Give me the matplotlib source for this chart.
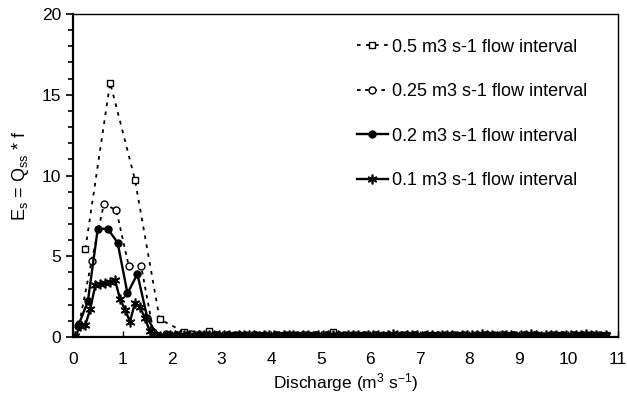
import numpy as np
import matplotlib
matplotlib.use("Agg")
import matplotlib.pyplot as plt

plt.rcParams["font.family"] = ["Liberation Sans", "DejaVu Sans"]
plt.rcParams["mathtext.fontset"] = "custom"
plt.rcParams["mathtext.rm"] = "Liberation Sans"
plt.rcParams["mathtext.it"] = "Liberation Sans"

# =========================
# DATA
# =========================
# flow interval widths; points sit at the interval midpoints
w05, w025, w02, w01 = 0.5, 0.25, 0.2, 0.1

es_05 = [5.45, 15.75, 9.75, 1.1, 0.3, 0.35,
         0.15, 0.12, 0.12, 0.1, 0.3, 0.12, 0.1, 0.12, 0.1, 0.12,
         0.1, 0.1, 0.12, 0.1, 0.1, 0.12]

es_025 = [0.8, 4.7, 8.25, 7.85, 4.4, 4.4, 0.3,
          0.2, 0.15, 0.2, 0.15, 0.12, 0.15, 0.12, 0.1, 0.12, 0.1,
          0.12, 0.1, 0.12, 0.1, 0.1, 0.12, 0.1, 0.1, 0.12, 0.1,
          0.1, 0.12, 0.1, 0.1, 0.1, 0.12, 0.1, 0.1, 0.12, 0.1,
          0.1, 0.12, 0.1, 0.1, 0.12, 0.1]

es_02 = [0.65, 2.2, 6.7, 6.7, 5.85, 2.7, 3.9, 1.2, 0.05,
         0.1, 0.12, 0.15, 0.1, 0.12, 0.1, 0.14, 0.1, 0.12, 0.1,
         0.08, 0.1, 0.12, 0.1, 0.1, 0.12, 0.1, 0.08, 0.1, 0.12,
         0.1, 0.1, 0.08, 0.1, 0.12, 0.1, 0.1, 0.08, 0.1, 0.12,
         0.1, 0.08, 0.1, 0.12, 0.1, 0.1, 0.12, 0.1, 0.08, 0.1,
         0.12, 0.1, 0.1, 0.12, 0.08]

es_01 = [0.05, 0.7, 0.75, 1.75, 3.2, 3.3, 3.35, 3.4, 3.5, 2.35,
         1.7, 0.95, 2.1, 1.85, 1.2, 0.35, 0.05,
         0.05, 0.08, 0.1, 0.12, 0.1, 0.15, 0.12, 0.1, 0.14, 0.1,
         0.12, 0.15, 0.1, 0.12, 0.1, 0.08, 0.12, 0.1, 0.14, 0.1,
         0.08, 0.1, 0.12, 0.1, 0.08, 0.1, 0.12, 0.1, 0.08, 0.12,
         0.1, 0.08, 0.1, 0.12, 0.1, 0.14, 0.1, 0.08, 0.1, 0.12,
         0.1, 0.08, 0.1, 0.12, 0.1, 0.08, 0.1, 0.2, 0.1, 0.08,
         0.1, 0.12, 0.1, 0.08, 0.1, 0.12, 0.08, 0.1, 0.12, 0.1,
         0.08, 0.1, 0.12, 0.1, 0.1, 0.2, 0.12, 0.1, 0.08, 0.1,
         0.12, 0.1, 0.08, 0.1, 0.12, 0.2, 0.1, 0.08, 0.1, 0.12,
         0.1, 0.08, 0.1, 0.12, 0.1, 0.15, 0.2, 0.12, 0.1, 0.08,
         0.1]

labels = ["0.5 m3 s-1 flow interval", "0.25 m3 s-1 flow interval",
          "0.2 m3 s-1 flow interval", "0.1 m3 s-1 flow interval"]


def mids(vals, w):
    return w * (np.arange(len(vals)) + 0.5)


# =========================
# PLOT
# =========================
fig = plt.figure(figsize=(6.27, 3.96), dpi=100)
ax = fig.add_axes([0.1164, 0.149, 0.8692, 0.8156])

ax.plot(mids(es_05, w05), es_05, color="black", lw=1.3, ls=(0, (2, 3)),
        marker="s", ms=5, mfc="white", mec="black", mew=1.0, label=labels[0])
ax.plot(mids(es_025, w025), es_025, color="black", lw=1.3, ls=(0, (2, 2.5)),
        marker="o", ms=5, mfc="white", mec="black", mew=1.0, label=labels[1])
ax.plot(mids(es_02, w02), es_02, color="black", lw=1.7, ls="-",
        marker="o", ms=5, mfc="black", mec="black", label=labels[2])
ax.plot(mids(es_01, w01), es_01, color="black", lw=1.7, ls="-",
        marker=(6, 2, 0), ms=7, mec="black", mew=1.2, label=labels[3])

ax.set_xlim(0, 11)
ax.set_ylim(0, 20)
ax.set_xticks(range(0, 12))
ax.set_yticks([0, 5, 10, 15, 20])
ax.set_yticks(range(0, 21), minor=True)
ax.tick_params(axis="y", which="major", direction="out", length=5, width=1.2, labelsize=12.5)
ax.tick_params(axis="y", which="minor", direction="out", length=3.5, width=1.2)
ax.tick_params(axis="x", which="major", direction="in", length=4, width=1.0, labelsize=12.5, pad=11)
for s in ax.spines.values():
    s.set_linewidth(1.0)
ax.spines["left"].set_linewidth(1.6)
ax.spines["bottom"].set_linewidth(1.6)

ax.set_xlabel("Discharge (m$^3$ s$^{-1}$)", fontsize=12.5, labelpad=3)
ax.set_ylabel("E$_s$ = Q$_{ss}$ * f", fontsize=13, labelpad=8)

ax.legend(loc="upper left", bbox_to_anchor=(0.555, 0.925), bbox_transform=fig.transFigure,
          frameon=False, fontsize=13, handlelength=1.7, handletextpad=0.25,
          labelspacing=1.52, borderpad=0)

fig.savefig("out.png", dpi=100)
